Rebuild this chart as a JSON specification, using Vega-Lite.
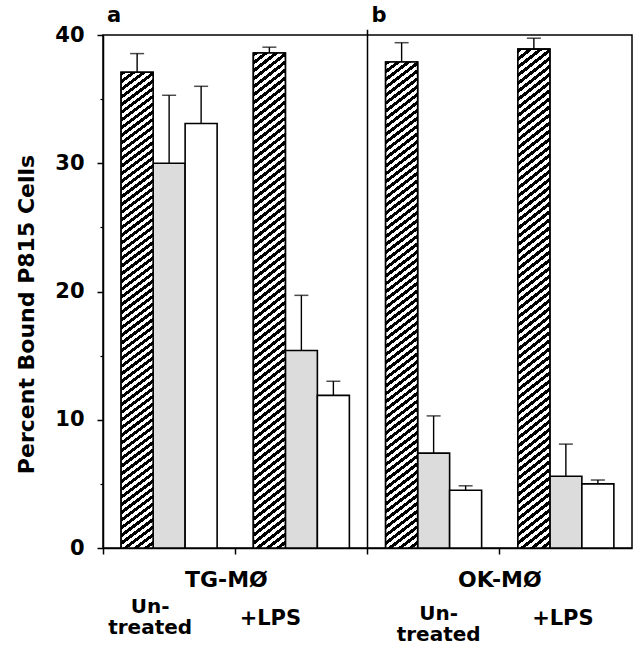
{
"$schema":"https://vega.github.io/schema/vega-lite/v6.json",
"width":529,"height":513,
"autosize":{"type":"none"},
"padding":{"left":103,"top":35,"right":5,"bottom":99},
"background":"white",
"config":{"view":{"stroke":"black","strokeWidth":1.5},"axis":{"grid":false,"domainColor":"black","tickColor":"black","labelColor":"black","titleColor":"black","labelFont":"DejaVu Sans","titleFont":"DejaVu Sans","labelFontWeight":"bold","titleFontWeight":"bold"}},
"data":{"values":[
{"cell":"TG-MØ","treatment":"Untreated","cat":"TG-MØ Untreated","series":"A","value":37.1,"upper":38.55},
{"cell":"TG-MØ","treatment":"Untreated","cat":"TG-MØ Untreated","series":"B","value":30.0,"upper":35.3},
{"cell":"TG-MØ","treatment":"Untreated","cat":"TG-MØ Untreated","series":"C","value":33.1,"upper":36.0},
{"cell":"TG-MØ","treatment":"+LPS","cat":"TG-MØ +LPS","series":"A","value":38.6,"upper":39.05},
{"cell":"TG-MØ","treatment":"+LPS","cat":"TG-MØ +LPS","series":"B","value":15.4,"upper":19.7},
{"cell":"TG-MØ","treatment":"+LPS","cat":"TG-MØ +LPS","series":"C","value":11.9,"upper":13.0},
{"cell":"OK-MØ","treatment":"Untreated","cat":"OK-MØ Untreated","series":"A","value":37.9,"upper":39.4},
{"cell":"OK-MØ","treatment":"Untreated","cat":"OK-MØ Untreated","series":"B","value":7.4,"upper":10.3},
{"cell":"OK-MØ","treatment":"Untreated","cat":"OK-MØ Untreated","series":"C","value":4.5,"upper":4.85},
{"cell":"OK-MØ","treatment":"+LPS","cat":"OK-MØ +LPS","series":"A","value":38.9,"upper":39.75},
{"cell":"OK-MØ","treatment":"+LPS","cat":"OK-MØ +LPS","series":"B","value":5.6,"upper":8.1},
{"cell":"OK-MØ","treatment":"+LPS","cat":"OK-MØ +LPS","series":"C","value":5.0,"upper":5.3}
]},
"layer":[
{"mark":{"type":"bar","stroke":"black","strokeWidth":1.6},
 "encoding":{
  "x":{"field":"cat","type":"nominal","scale":{"domain":["TG-MØ Untreated","TG-MØ +LPS","OK-MØ Untreated","OK-MØ +LPS"],"paddingInner":0,"paddingOuter":0},
   "axis":{"orient":"bottom","title":null,"domain":false,"ticks":false,"tickSize":0,"labelExpr":"indexof(datum.value, 'Untreated') >= 0 ? ['Un-', 'treated'] : '+LPS'",
   "labelFontSize":{"condition":{"test":"indexof(datum.value, 'Untreated') >= 0","value":20},"value":21},
   "labelPadding":{"condition":[{"test":"datum.value == 'TG-MØ Untreated'","value":58},{"test":"datum.value == 'OK-MØ Untreated'","value":65}],"value":70},
   "labelOffset":{"condition":[{"test":"datum.value == 'TG-MØ Untreated'","value":-19},{"test":"datum.value == 'TG-MØ +LPS'","value":-31},{"test":"datum.value == 'OK-MØ Untreated'","value":5}],"value":-3},"labelBaseline":"middle","labelLineHeight":21,"labelAngle":0,"labelOverlap":false}},
  "xOffset":{"field":"series","type":"nominal","scale":{"domain":["A","B","C"],"paddingInner":0,"paddingOuter":0.5664}},
  "y":{"field":"value","type":"quantitative","scale":{"domain":[0,40],"nice":false},
   "axis":{"orient":"left","values":[0,10,20,30,40],"tickSize":6,"tickWidth":1.5,"domainWidth":1.5,"labelFontSize":21,"labelPadding":13,"title":"Percent Bound P815 Cells","titleFontSize":22,"titlePadding":16,"titleY":279}},
  "fill":{"field":"series","type":"nominal","scale":{"domain":["A","B","C"],"range":["#ffffff","#dcdcdc","#ffffff"]},"legend":null}
 }},
{"transform":[{"filter":"datum.series == 'A'"}],
 "mark":{"type":"bar","stroke":"black","strokeWidth":1.6,"fill":{"gradient":"linear","x1":0,"y1":0,"x2":0.0537,"y2":1.0644,"stops":[
{"offset":0,"color":"#000"},{"offset":0.0076,"color":"#000"},{"offset":0.0076,"color":"#fff"},{"offset":0.0152,"color":"#fff"},
{"offset":0.0152,"color":"#000"},{"offset":0.0227,"color":"#000"},{"offset":0.0227,"color":"#fff"},{"offset":0.0303,"color":"#fff"},
{"offset":0.0303,"color":"#000"},{"offset":0.0379,"color":"#000"},{"offset":0.0379,"color":"#fff"},{"offset":0.0455,"color":"#fff"},
{"offset":0.0455,"color":"#000"},{"offset":0.053,"color":"#000"},{"offset":0.053,"color":"#fff"},{"offset":0.0606,"color":"#fff"},
{"offset":0.0606,"color":"#000"},{"offset":0.0682,"color":"#000"},{"offset":0.0682,"color":"#fff"},{"offset":0.0758,"color":"#fff"},
{"offset":0.0758,"color":"#000"},{"offset":0.0833,"color":"#000"},{"offset":0.0833,"color":"#fff"},{"offset":0.0909,"color":"#fff"},
{"offset":0.0909,"color":"#000"},{"offset":0.0985,"color":"#000"},{"offset":0.0985,"color":"#fff"},{"offset":0.1061,"color":"#fff"},
{"offset":0.1061,"color":"#000"},{"offset":0.1136,"color":"#000"},{"offset":0.1136,"color":"#fff"},{"offset":0.1212,"color":"#fff"},
{"offset":0.1212,"color":"#000"},{"offset":0.1288,"color":"#000"},{"offset":0.1288,"color":"#fff"},{"offset":0.1364,"color":"#fff"},
{"offset":0.1364,"color":"#000"},{"offset":0.1439,"color":"#000"},{"offset":0.1439,"color":"#fff"},{"offset":0.1515,"color":"#fff"},
{"offset":0.1515,"color":"#000"},{"offset":0.1591,"color":"#000"},{"offset":0.1591,"color":"#fff"},{"offset":0.1667,"color":"#fff"},
{"offset":0.1667,"color":"#000"},{"offset":0.1742,"color":"#000"},{"offset":0.1742,"color":"#fff"},{"offset":0.1818,"color":"#fff"},
{"offset":0.1818,"color":"#000"},{"offset":0.1894,"color":"#000"},{"offset":0.1894,"color":"#fff"},{"offset":0.197,"color":"#fff"},
{"offset":0.197,"color":"#000"},{"offset":0.2045,"color":"#000"},{"offset":0.2045,"color":"#fff"},{"offset":0.2121,"color":"#fff"},
{"offset":0.2121,"color":"#000"},{"offset":0.2197,"color":"#000"},{"offset":0.2197,"color":"#fff"},{"offset":0.2273,"color":"#fff"},
{"offset":0.2273,"color":"#000"},{"offset":0.2348,"color":"#000"},{"offset":0.2348,"color":"#fff"},{"offset":0.2424,"color":"#fff"},
{"offset":0.2424,"color":"#000"},{"offset":0.25,"color":"#000"},{"offset":0.25,"color":"#fff"},{"offset":0.2576,"color":"#fff"},
{"offset":0.2576,"color":"#000"},{"offset":0.2652,"color":"#000"},{"offset":0.2652,"color":"#fff"},{"offset":0.2727,"color":"#fff"},
{"offset":0.2727,"color":"#000"},{"offset":0.2803,"color":"#000"},{"offset":0.2803,"color":"#fff"},{"offset":0.2879,"color":"#fff"},
{"offset":0.2879,"color":"#000"},{"offset":0.2955,"color":"#000"},{"offset":0.2955,"color":"#fff"},{"offset":0.303,"color":"#fff"},
{"offset":0.303,"color":"#000"},{"offset":0.3106,"color":"#000"},{"offset":0.3106,"color":"#fff"},{"offset":0.3182,"color":"#fff"},
{"offset":0.3182,"color":"#000"},{"offset":0.3258,"color":"#000"},{"offset":0.3258,"color":"#fff"},{"offset":0.3333,"color":"#fff"},
{"offset":0.3333,"color":"#000"},{"offset":0.3409,"color":"#000"},{"offset":0.3409,"color":"#fff"},{"offset":0.3485,"color":"#fff"},
{"offset":0.3485,"color":"#000"},{"offset":0.3561,"color":"#000"},{"offset":0.3561,"color":"#fff"},{"offset":0.3636,"color":"#fff"},
{"offset":0.3636,"color":"#000"},{"offset":0.3712,"color":"#000"},{"offset":0.3712,"color":"#fff"},{"offset":0.3788,"color":"#fff"},
{"offset":0.3788,"color":"#000"},{"offset":0.3864,"color":"#000"},{"offset":0.3864,"color":"#fff"},{"offset":0.3939,"color":"#fff"},
{"offset":0.3939,"color":"#000"},{"offset":0.4015,"color":"#000"},{"offset":0.4015,"color":"#fff"},{"offset":0.4091,"color":"#fff"},
{"offset":0.4091,"color":"#000"},{"offset":0.4167,"color":"#000"},{"offset":0.4167,"color":"#fff"},{"offset":0.4242,"color":"#fff"},
{"offset":0.4242,"color":"#000"},{"offset":0.4318,"color":"#000"},{"offset":0.4318,"color":"#fff"},{"offset":0.4394,"color":"#fff"},
{"offset":0.4394,"color":"#000"},{"offset":0.447,"color":"#000"},{"offset":0.447,"color":"#fff"},{"offset":0.4545,"color":"#fff"},
{"offset":0.4545,"color":"#000"},{"offset":0.4621,"color":"#000"},{"offset":0.4621,"color":"#fff"},{"offset":0.4697,"color":"#fff"},
{"offset":0.4697,"color":"#000"},{"offset":0.4773,"color":"#000"},{"offset":0.4773,"color":"#fff"},{"offset":0.4848,"color":"#fff"},
{"offset":0.4848,"color":"#000"},{"offset":0.4924,"color":"#000"},{"offset":0.4924,"color":"#fff"},{"offset":0.5,"color":"#fff"},
{"offset":0.5,"color":"#000"},{"offset":0.5076,"color":"#000"},{"offset":0.5076,"color":"#fff"},{"offset":0.5152,"color":"#fff"},
{"offset":0.5152,"color":"#000"},{"offset":0.5227,"color":"#000"},{"offset":0.5227,"color":"#fff"},{"offset":0.5303,"color":"#fff"},
{"offset":0.5303,"color":"#000"},{"offset":0.5379,"color":"#000"},{"offset":0.5379,"color":"#fff"},{"offset":0.5455,"color":"#fff"},
{"offset":0.5455,"color":"#000"},{"offset":0.553,"color":"#000"},{"offset":0.553,"color":"#fff"},{"offset":0.5606,"color":"#fff"},
{"offset":0.5606,"color":"#000"},{"offset":0.5682,"color":"#000"},{"offset":0.5682,"color":"#fff"},{"offset":0.5758,"color":"#fff"},
{"offset":0.5758,"color":"#000"},{"offset":0.5833,"color":"#000"},{"offset":0.5833,"color":"#fff"},{"offset":0.5909,"color":"#fff"},
{"offset":0.5909,"color":"#000"},{"offset":0.5985,"color":"#000"},{"offset":0.5985,"color":"#fff"},{"offset":0.6061,"color":"#fff"},
{"offset":0.6061,"color":"#000"},{"offset":0.6136,"color":"#000"},{"offset":0.6136,"color":"#fff"},{"offset":0.6212,"color":"#fff"},
{"offset":0.6212,"color":"#000"},{"offset":0.6288,"color":"#000"},{"offset":0.6288,"color":"#fff"},{"offset":0.6364,"color":"#fff"},
{"offset":0.6364,"color":"#000"},{"offset":0.6439,"color":"#000"},{"offset":0.6439,"color":"#fff"},{"offset":0.6515,"color":"#fff"},
{"offset":0.6515,"color":"#000"},{"offset":0.6591,"color":"#000"},{"offset":0.6591,"color":"#fff"},{"offset":0.6667,"color":"#fff"},
{"offset":0.6667,"color":"#000"},{"offset":0.6742,"color":"#000"},{"offset":0.6742,"color":"#fff"},{"offset":0.6818,"color":"#fff"},
{"offset":0.6818,"color":"#000"},{"offset":0.6894,"color":"#000"},{"offset":0.6894,"color":"#fff"},{"offset":0.697,"color":"#fff"},
{"offset":0.697,"color":"#000"},{"offset":0.7045,"color":"#000"},{"offset":0.7045,"color":"#fff"},{"offset":0.7121,"color":"#fff"},
{"offset":0.7121,"color":"#000"},{"offset":0.7197,"color":"#000"},{"offset":0.7197,"color":"#fff"},{"offset":0.7273,"color":"#fff"},
{"offset":0.7273,"color":"#000"},{"offset":0.7348,"color":"#000"},{"offset":0.7348,"color":"#fff"},{"offset":0.7424,"color":"#fff"},
{"offset":0.7424,"color":"#000"},{"offset":0.75,"color":"#000"},{"offset":0.75,"color":"#fff"},{"offset":0.7576,"color":"#fff"},
{"offset":0.7576,"color":"#000"},{"offset":0.7652,"color":"#000"},{"offset":0.7652,"color":"#fff"},{"offset":0.7727,"color":"#fff"},
{"offset":0.7727,"color":"#000"},{"offset":0.7803,"color":"#000"},{"offset":0.7803,"color":"#fff"},{"offset":0.7879,"color":"#fff"},
{"offset":0.7879,"color":"#000"},{"offset":0.7955,"color":"#000"},{"offset":0.7955,"color":"#fff"},{"offset":0.803,"color":"#fff"},
{"offset":0.803,"color":"#000"},{"offset":0.8106,"color":"#000"},{"offset":0.8106,"color":"#fff"},{"offset":0.8182,"color":"#fff"},
{"offset":0.8182,"color":"#000"},{"offset":0.8258,"color":"#000"},{"offset":0.8258,"color":"#fff"},{"offset":0.8333,"color":"#fff"},
{"offset":0.8333,"color":"#000"},{"offset":0.8409,"color":"#000"},{"offset":0.8409,"color":"#fff"},{"offset":0.8485,"color":"#fff"},
{"offset":0.8485,"color":"#000"},{"offset":0.8561,"color":"#000"},{"offset":0.8561,"color":"#fff"},{"offset":0.8636,"color":"#fff"},
{"offset":0.8636,"color":"#000"},{"offset":0.8712,"color":"#000"},{"offset":0.8712,"color":"#fff"},{"offset":0.8788,"color":"#fff"},
{"offset":0.8788,"color":"#000"},{"offset":0.8864,"color":"#000"},{"offset":0.8864,"color":"#fff"},{"offset":0.8939,"color":"#fff"},
{"offset":0.8939,"color":"#000"},{"offset":0.9015,"color":"#000"},{"offset":0.9015,"color":"#fff"},{"offset":0.9091,"color":"#fff"},
{"offset":0.9091,"color":"#000"},{"offset":0.9167,"color":"#000"},{"offset":0.9167,"color":"#fff"},{"offset":0.9242,"color":"#fff"},
{"offset":0.9242,"color":"#000"},{"offset":0.9318,"color":"#000"},{"offset":0.9318,"color":"#fff"},{"offset":0.9394,"color":"#fff"},
{"offset":0.9394,"color":"#000"},{"offset":0.947,"color":"#000"},{"offset":0.947,"color":"#fff"},{"offset":0.9545,"color":"#fff"},
{"offset":0.9545,"color":"#000"},{"offset":0.9621,"color":"#000"},{"offset":0.9621,"color":"#fff"},{"offset":0.9697,"color":"#fff"},
{"offset":0.9697,"color":"#000"},{"offset":0.9773,"color":"#000"},{"offset":0.9773,"color":"#fff"},{"offset":0.9848,"color":"#fff"},
{"offset":0.9848,"color":"#000"},{"offset":0.9924,"color":"#000"},{"offset":0.9924,"color":"#fff"},{"offset":1,"color":"#fff"}
]}},
 "encoding":{
  "x":{"field":"cat","type":"nominal","scale":{"domain":["TG-MØ Untreated","TG-MØ +LPS","OK-MØ Untreated","OK-MØ +LPS"],"paddingInner":0,"paddingOuter":0},"axis":null},
  "xOffset":{"field":"series","type":"nominal","scale":{"domain":["A","B","C"],"paddingInner":0,"paddingOuter":0.5664}},
  "y":{"field":"value","type":"quantitative","scale":{"domain":[0,40],"nice":false},"axis":null}
 }},
{"mark":{"type":"rule","color":"black","strokeWidth":1.4},
 "encoding":{
  "x":{"field":"cat","type":"nominal","scale":{"domain":["TG-MØ Untreated","TG-MØ +LPS","OK-MØ Untreated","OK-MØ +LPS"],"paddingInner":0,"paddingOuter":0},
   "axis":{"orient":"bottom","title":null,"bandPosition":0,"tickSize":6,"tickWidth":1.5,"domainWidth":1.5,"labelExpr":"datum.value == 'TG-MØ +LPS' ? 'TG-MØ' : (datum.value == 'OK-MØ +LPS' ? 'OK-MØ' : '')","labelFontSize":22,"labelPadding":15,
   "labelOffset":{"condition":{"test":"datum.value == 'TG-MØ +LPS'","value":-75},"value":-66},"labelAngle":0,"labelOverlap":false}},
  "xOffset":{"field":"series","type":"nominal","scale":{"domain":["A","B","C"],"paddingInner":0,"paddingOuter":0.5664}},
  "y":{"field":"value","type":"quantitative","scale":{"domain":[0,40],"nice":false},
   "axis":{"orient":"left","values":[5,15,25,35],"tickSize":3,"tickWidth":1.2,"labels":false,"domain":false,"title":null}},
  "y2":{"field":"upper"}
 }},
{"mark":{"type":"tick","color":"black","thickness":1.5,"size":14},
 "encoding":{
  "x":{"field":"cat","type":"nominal","scale":{"domain":["TG-MØ Untreated","TG-MØ +LPS","OK-MØ Untreated","OK-MØ +LPS"],"paddingInner":0,"paddingOuter":0},"axis":null},
  "xOffset":{"field":"series","type":"nominal","scale":{"domain":["A","B","C"],"paddingInner":0,"paddingOuter":0.5664}},
  "y":{"field":"upper","type":"quantitative","scale":{"domain":[0,40],"nice":false},"axis":null}
 }},
{"data":{"values":[{"cat":"OK-MØ Untreated"}]},
 "mark":{"type":"rule","color":"black","strokeWidth":1.5},
 "encoding":{
  "x":{"field":"cat","type":"nominal","bandPosition":0,"scale":{"domain":["TG-MØ Untreated","TG-MØ +LPS","OK-MØ Untreated","OK-MØ +LPS"],"paddingInner":0,"paddingOuter":0},"axis":null},
  "y":{"datum":40.4,"type":"quantitative","scale":{"domain":[0,40],"nice":false},"axis":null},
  "y2":{"datum":0}
 }},
{"data":{"values":[{"panel":"a","cat":"TG-MØ Untreated"},{"panel":"b","cat":"OK-MØ Untreated"}]},
 "mark":{"type":"text","align":"left","baseline":"alphabetic","dx":4,"dy":-13,"font":"DejaVu Sans","fontWeight":"bold","fontSize":21,"color":"black"},
 "encoding":{
  "x":{"field":"cat","type":"nominal","bandPosition":0,"scale":{"domain":["TG-MØ Untreated","TG-MØ +LPS","OK-MØ Untreated","OK-MØ +LPS"],"paddingInner":0,"paddingOuter":0},"axis":null},
  "y":{"datum":40,"type":"quantitative","scale":{"domain":[0,40],"nice":false},"axis":null},
  "text":{"field":"panel"}
 }}
],
"resolve":{"axis":{"x":"independent","y":"independent"}}
}
